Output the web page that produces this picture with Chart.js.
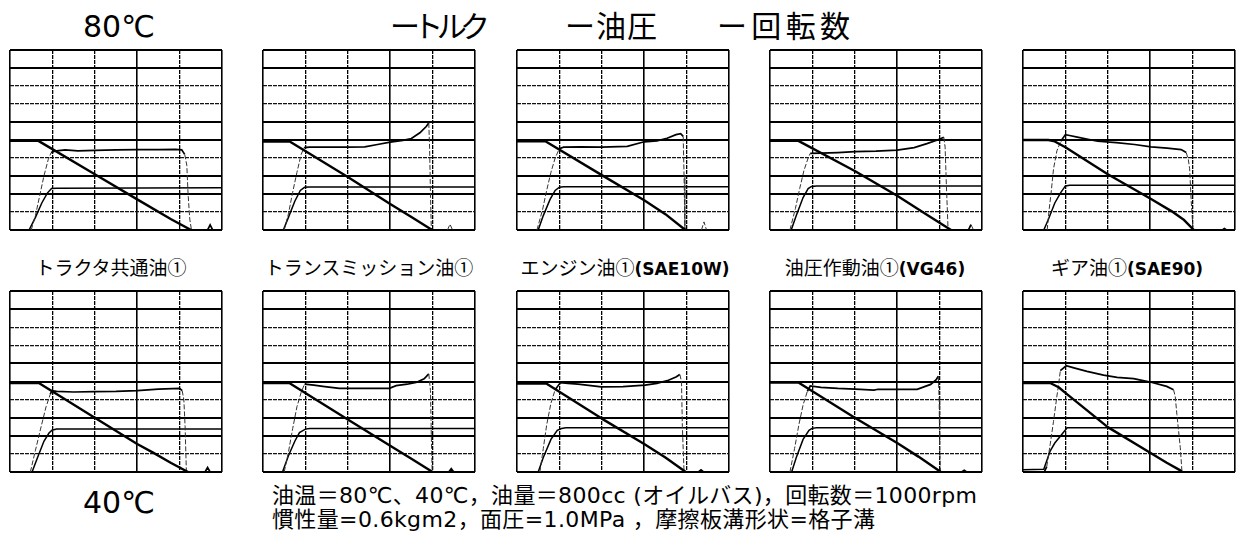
<!DOCTYPE html>
<html lang="ja">
<head>
<meta charset="utf-8">
<title>摩擦特性</title>
<script src="https://cdn.jsdelivr.net/npm/chart.js@4.4.1/dist/chart.umd.min.js"></script>
<style>
  html, body { margin: 0; padding: 0; background: #fff; }
  body { width: 1242px; height: 536px; position: relative; overflow: hidden; }
  canvas { position: absolute; }
  .t { position: absolute; white-space: nowrap; color: #000; line-height: 1; }
  .big { font-family: "DejaVu Sans", "Noto Sans CJK JP", sans-serif; }
  .jp  { font-family: "Noto Sans CJK JP", sans-serif; }
  .mix { font-family: "DejaVu Sans", "Noto Sans CJK JP", sans-serif; }
  .lat { font-family: "DejaVu Sans", sans-serif; font-weight: bold; }
</style>
</head>
<body>
<script>
// ---- values, in grid divisions (x: 0-5, y: 0-10) ----
const seriesNames = ['トルク', '油圧', '回転数'];
const oilNames = ['トラクタ共通油①', 'トランスミッション油①', 'エンジン油①', '油圧作動油①', 'ギア油①'];
const oilGrades = ['', '', '(SAE10W)', '(VG46)', '(SAE90)'];
const xTicks = [0, 1, 2, 3, 4, 5];
const yTicks = [0, 1, 2, 3, 4, 5, 6, 7, 8, 9, 10];

// 80℃
const torque80_1 = [[0,0],[0.5,0],[0.6,0.8],[0.7,1.9],[0.8,3.0],[0.9,3.9],[0.97,4.3],[1.05,4.38],[1.3,4.45],[1.6,4.4],[2.0,4.42],[2.5,4.45],[3.0,4.47],[3.5,4.47],[3.9,4.48],[4.05,4.45],[4.12,4.2],[4.17,3.6],[4.2,2.0],[4.24,0.6],[4.28,0],[4.66,0],[4.72,0.28],[4.78,0],[5,0]];
const pressure80_1 = [[0,0],[0.45,0],[0.6,0.7],[0.75,1.5],[0.88,2.05],[0.98,2.3],[1.1,2.32],[5,2.35]];
const speed80_1 = [[0,4.95],[0.67,4.95],[2.0,3.1],[3.0,1.7],[3.8,0.6],[4.27,0]];

const torque80_2 = [[0,0],[0.5,0],[0.6,0.9],[0.7,2.1],[0.8,3.2],[0.9,4.2],[0.97,4.58],[1.1,4.6],[1.5,4.6],[2.0,4.6],[2.4,4.62],[2.7,4.75],[3.0,4.88],[3.3,4.98],[3.5,5.08],[3.7,5.4],[3.85,5.75],[3.91,5.95],[3.93,4.5],[3.95,2.0],[3.97,0],[4.35,0],[4.41,0.32],[4.47,0],[5,0]];
const pressure80_2 = [[0,0],[0.48,0],[0.6,0.7],[0.75,1.6],[0.88,2.2],[0.98,2.37],[1.1,2.39],[5,2.39]];
const speed80_2 = [[0,4.92],[0.63,4.92],[2.0,2.95],[3.0,1.45],[3.5,0.72],[3.99,0]];

const torque80_3 = [[0,0],[0.47,0],[0.6,1.1],[0.7,2.2],[0.8,3.2],[0.9,4.0],[1.0,4.52],[1.1,4.6],[1.5,4.62],[2.0,4.6],[2.6,4.65],[3.0,4.9],[3.3,4.95],[3.54,5.1],[3.75,5.3],[3.86,5.35],[3.92,5.2],[3.94,3.0],[3.96,0],[4.35,0],[4.41,0.45],[4.47,0],[5,0]];
const pressure80_3 = [[0,0],[0.5,0],[0.62,0.8],[0.78,1.7],[0.9,2.2],[1.0,2.38],[1.1,2.4],[5,2.4]];
const speed80_3 = [[0,4.93],[0.67,4.93],[2.0,3.05],[3.0,1.65],[3.5,0.88],[3.97,0]];

const torque80_4 = [[0,0],[0.47,0],[0.6,1.2],[0.7,2.3],[0.8,3.3],[0.9,4.0],[0.95,4.26],[1.2,4.27],[1.6,4.3],[2.0,4.35],[2.5,4.38],[3.0,4.44],[3.4,4.58],[3.7,4.8],[3.95,5.0],[4.1,5.15],[4.13,4.6],[4.16,2.5],[4.2,0],[4.68,0],[4.74,0.3],[4.8,0],[5,0]];
const pressure80_4 = [[0,0],[0.5,0],[0.62,0.8],[0.78,1.8],[0.9,2.3],[0.98,2.42],[1.1,2.45],[5,2.45]];
const speed80_4 = [[0,4.95],[0.67,4.95],[2.0,3.28],[3.0,1.9],[3.7,0.85],[4.27,0]];

const torque80_5 = [[0,0],[0.57,0],[0.62,1.2],[0.66,2.0],[0.72,3.4],[0.8,4.4],[0.89,4.93],[1.0,5.3],[1.1,5.25],[1.28,5.16],[1.76,4.93],[2.2,4.85],[2.63,4.75],[3.02,4.62],[3.4,4.55],[3.73,4.47],[3.85,4.3],[3.9,3.9],[3.93,3.4],[3.97,1.5],[4.01,0],[4.7,0],[4.75,0.08],[4.8,0],[5,0]];
const pressure80_5 = [[0,0],[0.49,0],[0.6,0.6],[0.75,1.5],[0.89,2.08],[1.0,2.45],[1.1,2.49],[5,2.49]];
const speed80_5 = [[0,5.0],[0.6,5.0],[0.75,4.92],[1.0,4.6],[2.0,3.1],[3.0,1.75],[3.5,1.05],[3.8,0.55],[4.03,0]];

// 40℃
const torque40_1 = [[0,0],[0.48,0],[0.6,1.2],[0.72,2.37],[0.85,3.6],[0.95,4.3],[0.99,4.49],[1.1,4.45],[1.5,4.42],[2.0,4.44],[2.5,4.45],[3.0,4.5],[3.5,4.58],[4.0,4.62],[4.06,4.5],[4.1,4.0],[4.13,2.5],[4.16,0],[4.6,0],[4.66,0.25],[4.72,0],[5,0]];
const pressure40_1 = [[0,0],[0.52,0],[0.65,0.8],[0.8,1.7],[0.92,2.15],[0.99,2.31],[1.1,2.37],[5,2.37]];
const speed40_1 = [[0,4.92],[0.68,4.92],[2.0,3.0],[3.0,1.55],[3.375,1.07],[3.8,0.5],[4.2,0]];

const torque40_2 = [[0,0],[0.5,0],[0.6,1.1],[0.7,2.4],[0.8,3.6],[0.9,4.4],[0.98,4.86],[1.2,4.8],[1.41,4.73],[1.8,4.62],[2.4,4.62],[2.98,4.62],[3.14,4.77],[3.4,4.85],[3.61,4.95],[3.8,5.15],[3.91,5.42],[3.95,4.5],[3.97,2.0],[3.99,0],[4.38,0],[4.44,0.18],[4.5,0],[5,0]];
const pressure40_2 = [[0,0],[0.46,0],[0.6,0.9],[0.75,1.7],[0.86,2.18],[1.0,2.37],[1.1,2.4],[5,2.4]];
const speed40_2 = [[0,4.92],[0.62,4.92],[2.0,2.9],[3.0,1.45],[3.5,0.73],[4.0,0]];

const torque40_3 = [[0,0],[0.54,0],[0.62,1.3],[0.7,2.6],[0.8,3.8],[0.9,4.55],[1.02,4.93],[1.2,4.9],[1.44,4.85],[1.99,4.7],[2.5,4.72],[3.02,4.8],[3.3,4.9],[3.57,5.07],[3.75,5.25],[3.84,5.39],[3.88,5.0],[3.9,2.5],[3.94,0],[4.28,0],[4.34,0.12],[4.4,0],[5,0]];
const pressure40_3 = [[0,0],[0.5,0],[0.62,0.8],[0.8,1.8],[0.95,2.3],[1.05,2.4],[1.15,2.44],[5,2.44]];
const speed40_3 = [[0,4.89],[0.69,4.89],[2.0,2.95],[3.0,1.55],[3.5,0.8],[3.98,0]];

const torque40_4 = [[0,0],[0.47,0],[0.58,1.3],[0.68,2.6],[0.78,3.7],[0.88,4.45],[0.95,4.75],[1.2,4.68],[1.6,4.62],[2.13,4.57],[2.45,4.52],[2.55,4.57],[3.0,4.57],[3.47,4.57],[3.79,4.84],[3.92,5.1],[3.97,5.3],[3.99,4.0],[4.0,1.5],[4.02,0],[4.52,0],[4.58,0.1],[4.64,0],[5,0]];
const pressure40_4 = [[0,0],[0.51,0],[0.62,0.8],[0.78,1.8],[0.92,2.3],[0.99,2.41],[1.1,2.45],[5,2.45]];
const speed40_4 = [[0,4.94],[0.67,4.94],[2.0,3.0],[3.0,1.6],[3.5,0.85],[4.03,0]];

const torque40_5 = [[0,0],[0.5,0],[0.56,0.3],[0.64,1.5],[0.72,2.8],[0.8,4.2],[0.84,4.83],[0.88,5.6],[1.02,5.87],[1.2,5.75],[1.51,5.56],[1.9,5.35],[2.22,5.23],[2.61,5.16],[3.0,4.97],[3.39,4.73],[3.55,4.55],[3.59,4.18],[3.63,3.17],[3.71,1.34],[3.75,0],[5,0]];
const pressure40_5 = [[0,0.12],[0.49,0.15],[0.64,1.16],[0.75,1.6],[0.88,1.98],[1.04,2.44],[1.15,2.44],[5,2.44]];
const speed40_5 = [[0,4.92],[0.64,4.92],[0.84,4.68],[1.0,4.37],[2.0,2.48],[3.0,1.06],[3.39,0.51],[3.71,0.09],[3.75,0]];

// ---- panel table built from the arrays above ----
const rows = [
  [[torque80_1, pressure80_1, speed80_1], [torque80_2, pressure80_2, speed80_2], [torque80_3, pressure80_3, speed80_3], [torque80_4, pressure80_4, speed80_4], [torque80_5, pressure80_5, speed80_5]],
  [[torque40_1, pressure40_1, speed40_1], [torque40_2, pressure40_2, speed40_2], [torque40_3, pressure40_3, speed40_3], [torque40_4, pressure40_4, speed40_4], [torque40_5, pressure40_5, speed40_5]]
];

// ---- layout ----
const plotLeft = [10, 263, 517, 770, 1023];
const plotWidth = 212;
const rowTop = [50, 291];
const rowHeight = [180, 181];
const pad = 4;

// dotted (lighter) grid lines of the recorder paper
const thinY = new Set([1, 4, 7, 8]);
const thinX = new Set([1, 2, 4]);

function pts(a) { return a.map(p => ({ x: p[0], y: p[1] })); }
function steep(c) {
  const dx = c.p1.parsed.x - c.p0.parsed.x;
  const dy = c.p1.parsed.y - c.p0.parsed.y;
  return Math.abs(dy / (dx || 1e-6)) > 5;
}

function panel(left, top, w, h, torque, pressure, speed) {
  const cv = document.createElement('canvas');
  cv.width = w + pad * 2;
  cv.height = h + pad * 2;
  cv.style.left = (left - pad) + 'px';
  cv.style.top = (top - pad) + 'px';
  cv.style.width = cv.width + 'px';
  cv.style.height = cv.height + 'px';
  document.body.appendChild(cv);
  new Chart(cv, {
    type: 'line',
    data: {
      datasets: [
        { label: seriesNames[2], data: pts(speed), borderColor: '#000', borderWidth: 2.4,
          pointRadius: 0, tension: 0, borderJoinStyle: 'round' },
        { label: seriesNames[0], data: pts(torque), borderColor: '#000', borderWidth: 1.7,
          pointRadius: 0, tension: 0,
          segment: {
            borderDash: c => steep(c) ? [5, 2] : undefined,
            borderWidth: c => steep(c) ? 1 : undefined,
            borderColor: c => steep(c) ? '#333' : undefined
          } },
        { label: seriesNames[1], data: pts(pressure), borderColor: '#000', borderWidth: 1.5,
          pointRadius: 0, tension: 0 }
      ]
    },
    options: {
      responsive: false,
      animation: false,
      devicePixelRatio: 1,
      events: [],
      layout: { padding: pad },
      plugins: { legend: { display: false }, tooltip: { enabled: false } },
      scales: {
        x: {
          type: 'linear', min: xTicks[0], max: xTicks[xTicks.length - 1],
          afterBuildTicks: s => { s.ticks = xTicks.map(v => ({ value: v })); },
          ticks: { display: false },
          grid: {
            drawTicks: false,
            color: '#000',
            lineWidth: c => thinX.has(c.tick.value) ? 1.3 : 1.6
          },
          border: { display: false, dash: c => thinX.has(c.tick.value) ? [4, 1] : [] }
        },
        y: {
          type: 'linear', min: yTicks[0], max: yTicks[yTicks.length - 1],
          afterBuildTicks: s => { s.ticks = yTicks.map(v => ({ value: v })); },
          ticks: { display: false },
          grid: {
            drawTicks: false,
            color: c => thinY.has(c.tick.value) ? '#111' : '#000',
            lineWidth: c => thinY.has(c.tick.value) ? 1.3 : 2
          },
          border: { display: false, dash: c => thinY.has(c.tick.value) ? [4, 1] : [] }
        }
      }
    }
  });
}

rows.forEach((row, r) => row.forEach((d, i) => {
  panel(plotLeft[i], rowTop[r], plotWidth, rowHeight[r], d[0], d[1], d[2]);
}));

// ---- text ----
function text(str, cls, left, cy, size, width) {
  const el = document.createElement('div');
  el.className = 't ' + cls;
  el.textContent = str;
  el.style.fontSize = size + 'px';
  el.style.left = left + 'px';
  el.style.top = (cy - size / 2) + 'px';
  el.style.height = size + 'px';
  document.body.appendChild(el);
  if (width) {
    const n = [...str].length;
    const natural = el.getBoundingClientRect().width;
    el.style.letterSpacing = ((width - natural) / Math.max(1, n - 1)) + 'px';
  }
  return el;
}

text('80℃', 'big', 83, 27, 30);
text('40℃', 'big', 83, 503, 30);

const legendLeft = [390, 565, 717];
const legendWidth = [100, 92, 133];
seriesNames.forEach((s, i) => text('ー' + s, 'jp', legendLeft[i], 24, 30, legendWidth[i]));

// oil labels under the 80℃ row: kana/kanji part plus the grade in Latin type
const labelCenter = [111, 369, 625, 875, 1127];
oilNames.forEach((s, i) => {
  const el = document.createElement('div');
  el.className = 't jp';
  el.style.fontSize = '19px';
  el.style.top = (266 - 9.5) + 'px';
  el.style.height = '19px';
  const a = document.createElement('span');
  a.textContent = s;
  el.appendChild(a);
  if (oilGrades[i]) {
    const b = document.createElement('span');
    b.className = 'lat';
    b.style.fontSize = '17px';
    b.textContent = oilGrades[i];
    el.appendChild(b);
  }
  document.body.appendChild(el);
  const w = el.getBoundingClientRect().width;
  el.style.left = (labelCenter[i] - w / 2) + 'px';
});

text('油温＝80℃、40℃，油量＝800cc (オイルバス)，回転数＝1000rpm', 'mix', 272, 496, 22, 705);
text('慣性量=0.6kgm2，面圧=1.0MPa ，摩擦板溝形状=格子溝', 'mix', 272, 520, 22, 603);
</script>
</body>
</html>
